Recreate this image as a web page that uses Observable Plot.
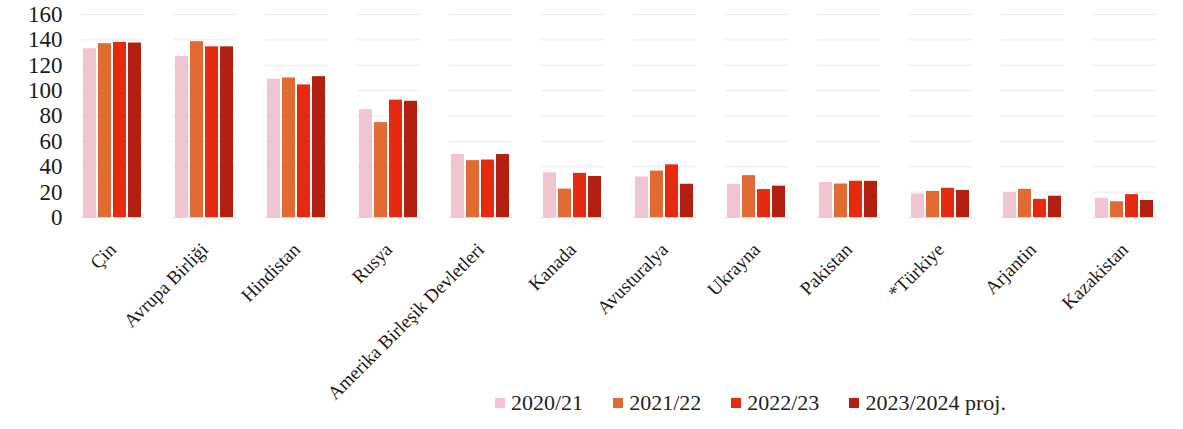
<!DOCTYPE html>
<html>
<head>
<meta charset="utf-8">
<script src="https://cdn.jsdelivr.net/npm/d3@7"></script>
<script src="https://cdn.jsdelivr.net/npm/@observablehq/plot@0.6"></script>
<style>
  body { margin: 0; background: #fff; font-family: "Liberation Serif", serif; }
  #wrap { position: relative; width: 1183px; height: 429px; }
  #legend { position: absolute; left: 495px; top: 390px; display: flex; gap: 30px; font-size: 22px; color: #222; }
  #legend .item { display: flex; align-items: center; gap: 6px; }
  #legend .sw { width: 10px; height: 10px; display: inline-block; }
</style>
</head>
<body>
<div id="wrap">
<div id="chart"></div>
<div id="legend"></div>
</div>
<script>
const countries = ["Çin", "Avrupa Birliği", "Hindistan", "Rusya", "Amerika Birleşik Devletleri", "Kanada", "Avusturalya", "Ukrayna", "Pakistan", "*Türkiye", "Arjantin", "Kazakistan"];
const seasons = ["2020/21", "2021/22", "2022/23", "2023/2024 proj."];
const yTicks = [0, 20, 40, 60, 80, 100, 120, 140, 160];
const v2020 = [133, 127, 109, 85, 49.7, 35.2, 31.9, 26.2, 27.5, 18.5, 19.8, 15.1];
const v2021 = [137, 138.6, 110, 74.8, 44.8, 22.4, 36.6, 33.0, 26.4, 20.6, 22.2, 12.4];
const v2022 = [138, 134.5, 104.5, 92.5, 45.3, 34.8, 41.5, 22.0, 28.6, 23.0, 14.3, 18.0];
const v2023 = [137.5, 134.5, 111, 91.6, 49.6, 32.3, 26.2, 24.7, 28.5, 21.3, 16.8, 13.4];
const colors = ["#f1c5cf", "#e26b34", "#e62a10", "#b31f10"];

const series = [v2020, v2021, v2022, v2023];
const data = [];
countries.forEach((c, i) => seasons.forEach((s, j) => data.push({country: c, season: s, value: series[j][i]})));

const chart = Plot.plot({
  width: 1183,
  height: 429,
  marginLeft: 64,
  marginRight: 9,
  marginTop: 14,
  marginBottom: 212,
  style: {fontFamily: "Liberation Serif, serif", color: "#222", background: "#fff"},
  fx: {domain: countries, paddingInner: 0.31, paddingOuter: 0.155, label: null, axis: null},
  x: {domain: seasons, padding: 0.12, axis: null},
  y: {domain: [0, 160], ticks: yTicks, label: null, axis: null},
  color: {domain: seasons, range: colors},
  marks: [
    Plot.gridY(yTicks.slice(1), {stroke: "#d8d8d8", strokeOpacity: 0.55}),
    Plot.ruleY([0], {stroke: "#d8d8d8"}),
    Plot.axisY(yTicks, {anchor: "left", tickSize: 0, tickPadding: 19, fontSize: 23, fill: "#1a1a1a", label: null}),
    Plot.axisFx({tickRotate: -45, tickSize: 0, tickPadding: 3, dy: 26, fontSize: 19, fill: "#1a1a1a", label: null, anchor: "bottom"}),
    Plot.barY(data, {fx: "country", x: "season", y: "value", fill: "season"})
  ]
});
document.getElementById("chart").appendChild(chart);

const legend = document.getElementById("legend");
seasons.forEach((s, j) => {
  const item = document.createElement("div");
  item.className = "item";
  const sw = document.createElement("span");
  sw.className = "sw";
  sw.style.background = colors[j];
  const t = document.createElement("span");
  t.textContent = s;
  item.appendChild(sw);
  item.appendChild(t);
  legend.appendChild(item);
});
</script>
</body>
</html>
